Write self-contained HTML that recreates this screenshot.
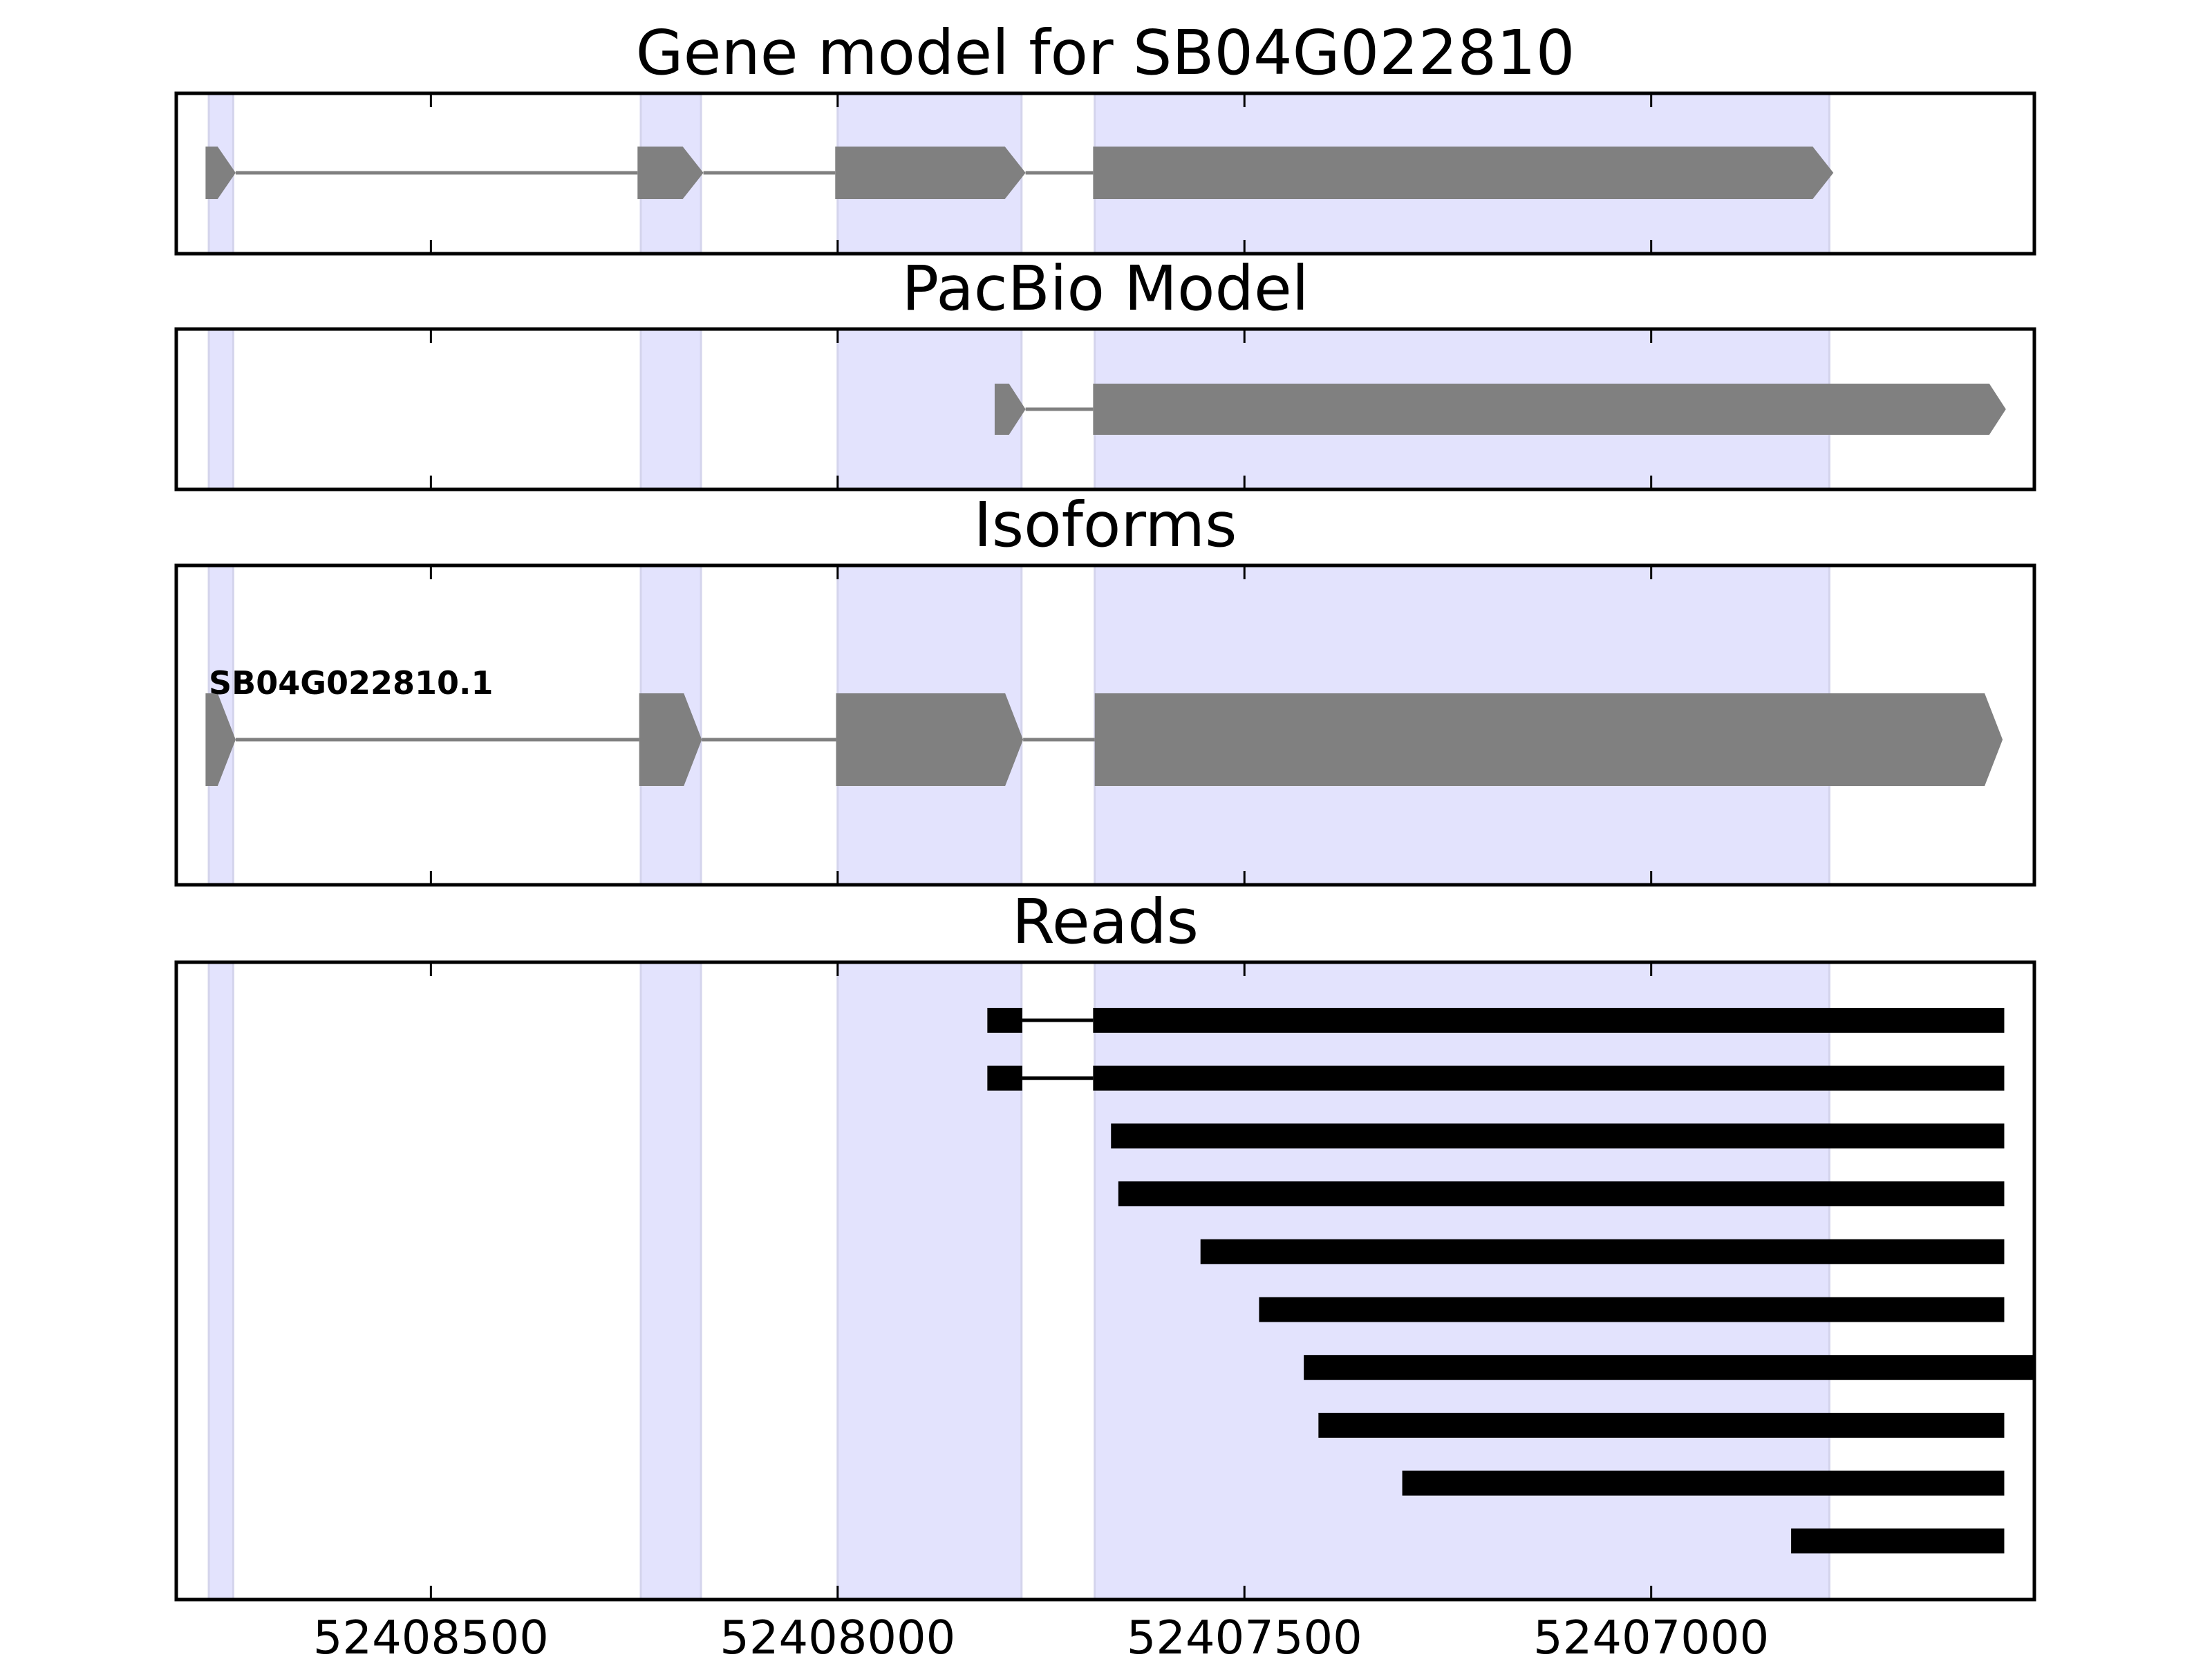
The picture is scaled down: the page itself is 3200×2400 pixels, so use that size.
<!DOCTYPE html>
<html><head><meta charset="utf-8"><style>
html,body{margin:0;padding:0;background:#fff;}
svg{display:block;font-family:"DejaVu Sans","Liberation Sans",sans-serif;}
</style></head><body>
<svg id="chart" width="3200" height="2400" viewBox="0 0 3200 2400" xmlns="http://www.w3.org/2000/svg"></svg>
<script>
// ---- data ----
const xDomain = [52408813, 52406529];
const tickValues = [52408500, 52408000, 52407500, 52407000];
const tickLabels = ["52408500", "52408000", "52407500", "52407000"];
const panelTitles = ["Gene model for SB04G022810", "PacBio Model", "Isoforms", "Reads"];
const shadeStarts = [52408773, 52408242, 52408000, 52407684];
const shadeEnds   = [52408743, 52408168, 52407774, 52406781];
const geneExonStarts = [52408777, 52408246, 52408003, 52407686];
const geneExonEnds   = [52408740, 52408165, 52407769, 52406776];
const pacbioExonStarts = [52407807, 52407686];
const pacbioExonEnds   = [52407769, 52406564];
const isoExonStarts = [52408777, 52408244, 52408002, 52407684];
const isoExonEnds   = [52408740, 52408167, 52407772, 52406568];
const isoLabel = "SB04G022810.1";
const readStarts = [52407816, 52407816, 52407664, 52407655, 52407554, 52407482, 52407427, 52407409, 52407306, 52406828];
const readEnds   = [52406566, 52406566, 52406566, 52406566, 52406566, 52406566, 52406480, 52406566, 52406566, 52406566];
const readIntronStarts = [52407773, 52407773, null, null, null, null, null, null, null, null];
const readIntronEnds   = [52407686, 52407686, null, null, null, null, null, null, null, null];

// ---- layout ----
const NS = "http://www.w3.org/2000/svg";
const svg = document.getElementById('chart');
const L = 255, R = 2943;
const panels = [{t:135,b:367},{t:476,b:708},{t:818,b:1280},{t:1392,b:2314}];
function x(v){ return L + (xDomain[0]-v)/(xDomain[0]-xDomain[1])*(R-L); }
function mk(tag, attrs, parent){ const e=document.createElementNS(NS,tag); for(const k in attrs) e.setAttribute(k,attrs[k]); (parent||svg).appendChild(e); return e; }

function arrowExon(g, v1, v2, cy, h, d, fill, name){
  const x1=x(v1), x2=x(v2), dd=Math.min(d,(x2-x1)*0.6);
  const p = mk('polygon',{points:`${x1},${cy-h} ${x2-dd},${cy-h} ${x2},${cy} ${x2-dd},${cy+h} ${x1},${cy+h}`,fill:fill},g);
  
  
}

panels.forEach((p,i)=>{
  const g = mk('g',{});
  
  
  const ti = mk('text',{x:(L+R)/2,y:p.t-28,'text-anchor':'middle','font-size':89,fill:'#000'},g);
  ti.textContent = panelTitles[i];
  
  
  const clip = mk('clipPath',{id:'c'+i},g);
  mk('rect',{x:L,y:p.t,width:R-L,height:p.b-p.t},clip);
  const inner = mk('g',{'clip-path':`url(#c${i})`},g);
  for(let k=0;k<shadeStarts.length;k++){
    const r = mk('rect',{x:x(shadeStarts[k]),y:p.t,width:x(shadeEnds[k])-x(shadeStarts[k]),height:p.b-p.t,fill:'#e3e3fd',stroke:'#d4d4ec','stroke-width':3},inner);
    
    
  }
  const gray='#808080';
  if(i===0||i===2){
    const cy = i===0 ? 250 : 1070, h = i===0 ? 38 : 67;
    const S = i===0?geneExonStarts:isoExonStarts, E = i===0?geneExonEnds:isoExonEnds;
    for(let k=0;k<S.length-1;k++){
      const ln = mk('line',{x1:x(E[k]),x2:x(S[k+1]),y1:cy,y2:cy,stroke:gray,'stroke-width':5},inner);
      
      
    }
    for(let k=0;k<S.length;k++) arrowExon(inner,S[k],E[k],cy,h,i===0?30:26,gray,'exon');
    if(i===2){
      const lb = mk('text',{x:302,y:1004,'font-size':46,'font-weight':'bold',fill:'#000'},inner);
      lb.textContent = isoLabel;
      
      
    }
  }
  if(i===1){
    const cy=592,h=37;
    for(let k=0;k<pacbioExonStarts.length-1;k++){
      const ln = mk('line',{x1:x(pacbioExonEnds[k]),x2:x(pacbioExonStarts[k+1]),y1:cy,y2:cy,stroke:gray,'stroke-width':5},inner);
      
      
    }
    for(let k=0;k<pacbioExonStarts.length;k++) arrowExon(inner,pacbioExonStarts[k],pacbioExonEnds[k],cy,h,24,gray,'pacbio-exon');
  }
  if(i===3){
    const top=1476, step=83.7, h=18;
    for(let k=0;k<readStarts.length;k++){
      const cy = top + k*step;
      if(readIntronStarts[k]!==null){
        const b1 = mk('rect',{x:x(readStarts[k]),y:cy-h,width:x(readIntronStarts[k])-x(readStarts[k]),height:2*h,fill:'#000'},inner);
        
        
        const ln = mk('line',{x1:x(readIntronStarts[k]),x2:x(readIntronEnds[k]),y1:cy,y2:cy,stroke:'#000','stroke-width':5},inner);
        
        
        const b2 = mk('rect',{x:x(readIntronEnds[k]),y:cy-h,width:x(readEnds[k])-x(readIntronEnds[k]),height:2*h,fill:'#000'},inner);
        
        
      } else {
        const b = mk('rect',{x:x(readStarts[k]),y:cy-h,width:x(readEnds[k])-x(readStarts[k]),height:2*h,fill:'#000'},inner);
        
        
      }
    }
  }
  tickValues.forEach((tv,j)=>{
    const tx=x(tv);
    mk('line',{x1:tx,x2:tx,y1:p.t,y2:p.t+20,stroke:'#000','stroke-width':3},g);
    mk('line',{x1:tx,x2:tx,y1:p.b,y2:p.b-20,stroke:'#000','stroke-width':3},g);
    if(i===3){
      const tl = mk('text',{x:tx,y:2392,'text-anchor':'middle','font-size':67,fill:'#000'},g);
      tl.textContent = tickLabels[j];
      
      
    }
  });
  const fr = mk('rect',{x:L,y:p.t,width:R-L,height:p.b-p.t,fill:'none',stroke:'#000','stroke-width':5},g);
  
  
});
</script>
</body></html>
